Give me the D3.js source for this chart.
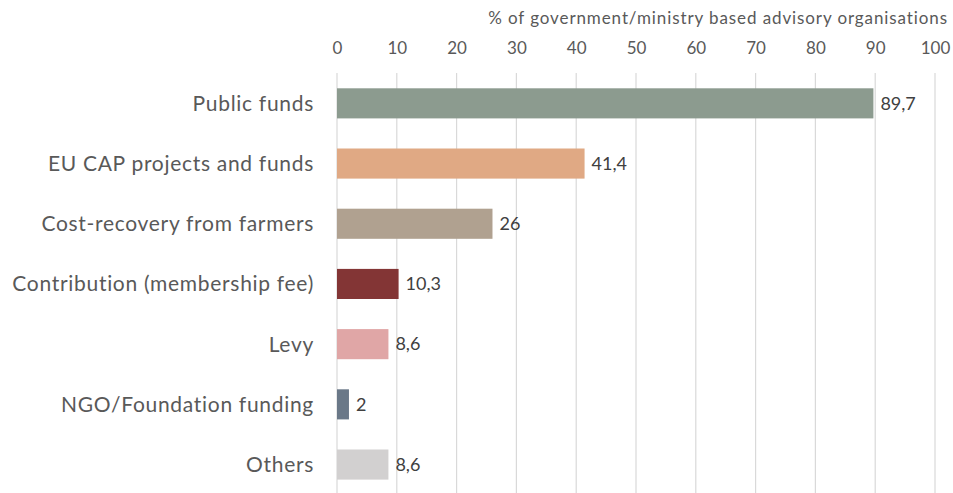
<!DOCTYPE html>
<html>
<head>
<meta charset="utf-8">
<script src="https://cdn.jsdelivr.net/npm/d3@7"></script>
<style>
  html, body { margin: 0; padding: 0; background: #fff; }
  svg { display: block; font-family: Lato, "Open Sans", sans-serif; }
</style>
</head>
<body>
<svg id="chart" width="953" height="493"></svg>
<script>
// Funding sources of government/ministry based advisory organisations
const categories = [
  "Public funds",
  "EU CAP projects and funds",
  "Cost-recovery from farmers",
  "Contribution (membership fee)",
  "Levy",
  "NGO/Foundation funding",
  "Others"
];
const values = [89.7, 41.4, 26, 10.3, 8.6, 2, 8.6];
const valueLabels = ["89,7", "41,4", "26", "10,3", "8,6", "2", "8,6"];
const barColors = ["#8c9b8f", "#e0a984", "#b0a190", "#833535", "#e0a6a6", "#6a7888", "#d2d0d0"];
const tickValues = [0, 10, 20, 30, 40, 50, 60, 70, 80, 90, 100];
const axisTitle = "% of government/ministry based advisory organisations";

const svg = d3.select("#chart");

const x = d3.scaleLinear().domain([0, 100]).range([337, 935]);
const y = d3.scaleBand()
  .domain(categories)
  .range([73.25, 494.65])
  .paddingInner(0.5)
  .paddingOuter(0.25);

// vertical gridlines
svg.append("g")
  .selectAll("line")
  .data(tickValues)
  .join("line")
  .attr("x1", d => x(d)).attr("x2", d => x(d))
  .attr("y1", 73).attr("y2", 493)
  .attr("stroke", "#d9d9d9")
  .attr("stroke-width", 1.2);

// top axis tick labels
const axis = d3.axisTop(x).tickValues(tickValues).tickSize(0).tickPadding(0);
const gAxis = svg.append("g").attr("transform", "translate(0,54)").call(axis);
gAxis.select(".domain").remove();
gAxis.selectAll("text")
  .attr("fill", "#595959")
  .style("font-size", "17px")
  .style("font-family", "Lato, sans-serif");

// axis title
svg.append("text")
  .attr("x", 948).attr("y", 24)
  .attr("text-anchor", "end")
  .attr("fill", "#595959")
  .style("font-size", "17px")
  .style("letter-spacing", "0.9px")
  .text(axisTitle);

// category labels
svg.append("g")
  .selectAll("text")
  .data(categories)
  .join("text")
  .attr("x", 314)
  .attr("y", d => y(d) + y.bandwidth() / 2)
  .attr("dy", "0.35em")
  .attr("text-anchor", "end")
  .attr("fill", "#595959")
  .style("font-size", "21px")
  .style("letter-spacing", "0.7px")
  .text(d => d);

// bars
svg.append("g")
  .selectAll("rect")
  .data(values)
  .join("rect")
  .attr("x", x(0))
  .attr("y", (d, i) => y(categories[i]))
  .attr("width", d => x(d) - x(0))
  .attr("height", y.bandwidth())
  .attr("fill", (d, i) => barColors[i]);

// value labels
svg.append("g")
  .selectAll("text")
  .data(values)
  .join("text")
  .attr("x", d => x(d) + 7)
  .attr("y", (d, i) => y(categories[i]) + y.bandwidth() / 2)
  .attr("dy", "0.35em")
  .attr("fill", "#404040")
  .style("font-size", "18px")
  .text((d, i) => valueLabels[i]);
</script>
</body>
</html>
